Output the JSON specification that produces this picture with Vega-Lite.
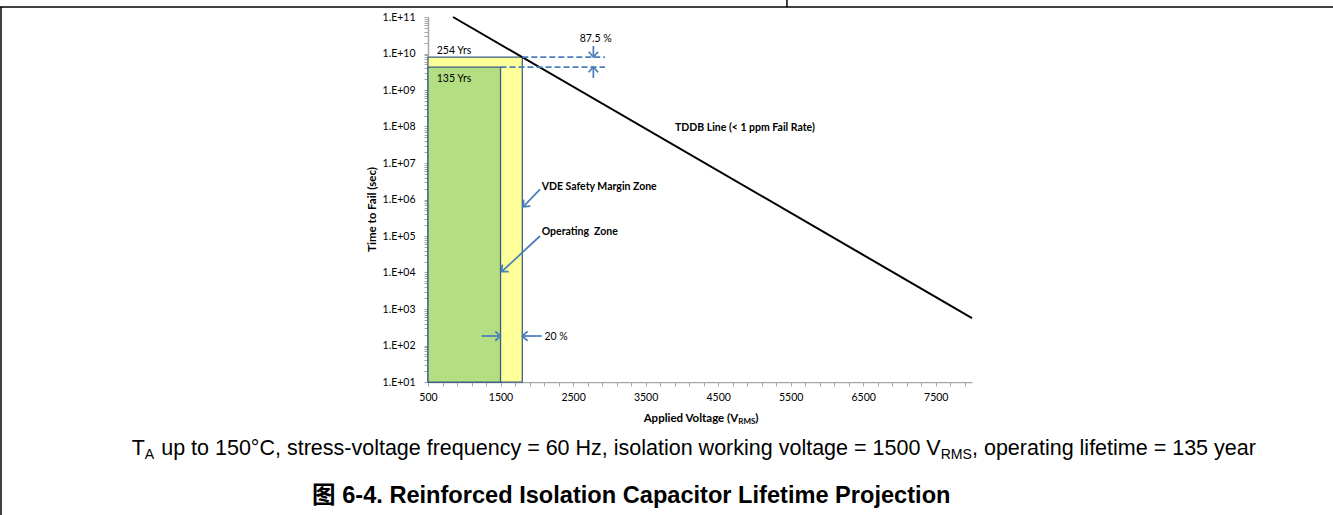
{
  "$schema": "https://vega.github.io/schema/vega-lite/v6.json",
  "width": 544,
  "height": 365,
  "autosize": {"type": "none"},
  "padding": {"left": 428, "top": 17, "right": 361, "bottom": 133},
  "background": "white",
  "config": {"view": {"stroke": null}, "font": "Lato", "axis": {"labelFont": "Lato", "titleFont": "Lato"}},
  "datasets": {
    "frame": [
      {"x0": -5401, "x1": 12977, "y0": 1.88e11, "y1": 1.88e11},
      {"x0": -5387, "x1": -5387, "y0": 1.88e11, "y1": 0.00227},
      {"x0": 5449, "x1": 5449, "y0": 2.93e11, "y1": 1.88e11}
    ],
    "tddb": [
      {"voltage": 845, "ttf": 1e11},
      {"voltage": 8000, "ttf": 566}
    ],
    "zones": [
      {"zone": "VDE Safety Margin Zone", "v0": 500, "v1": 1800, "t0": 10, "t1": 8.01e9},
      {"zone": "Operating Zone", "v0": 500, "v1": 1500, "t0": 10, "t1": 4.257e9}
    ],
    "levels": [
      {"v0": 1800, "v1": 2940, "t": 8.01e9},
      {"v0": 1500, "v1": 2940, "t": 4.257e9}
    ],
    "arrows": [
      {"dir": "down", "v0": 2780, "t0": 1.6e10, "v1": 2780, "t1": 8.01e9},
      {"dir": "up", "v0": 2780, "t0": 2.13e9, "v1": 2780, "t1": 4.257e9},
      {"dir": "right", "v0": 1240, "t0": 182, "v1": 1500, "t1": 182},
      {"dir": "left", "v0": 2067, "t0": 182, "v1": 1800, "t1": 182},
      {"dir": "toVDE", "v0": 2044, "t0": 1.9e6, "v1": 1814, "t1": 6.35e5},
      {"dir": "toOperating", "v0": 2044, "t0": 1.0e5, "v1": 1516, "t1": 1.05e4}
    ],
    "notes": [
      {"label": "VDE Safety Margin Zone", "voltage": 2067, "ttf": 2.24e6},
      {"label": "Operating\u00a0 Zone", "voltage": 2067, "ttf": 1.31e5},
      {"label": "TDDB Line (< 1 ppm Fail Rate)", "voltage": 3905, "ttf": 8.9e7}
    ],
    "values": [
      {"label": "254 Yrs", "voltage": 620, "ttf": 1.19e10, "anchor": "left"},
      {"label": "135 Yrs", "voltage": 620, "ttf": 2.0e9, "anchor": "left"},
      {"label": "87.5 %", "voltage": 2812, "ttf": 2.5e10, "anchor": "center"},
      {"label": "20 %", "voltage": 2106, "ttf": 171, "anchor": "left"}
    ],
    "xtitle": [
      {"label": "Applied Voltage (V", "voltage": 4778, "ttf": 0.80}
    ],
    "xtitleEnd": [
      {"label": ")", "voltage": 5010, "ttf": 0.80}
    ],
    "xtitleSub": [
      {"label": "RMS", "voltage": 4778, "ttf": 0.685}
    ],
    "captionLeft": [
      {"label": "T", "voltage": -3586, "ttf": 0.0969},
      {"label": ", operating lifetime = 135 year", "voltage": 8000, "ttf": 0.0969}
    ],
    "captionRight": [
      {"label": "up to 150°C, stress-voltage frequency = 60 Hz, isolation working voltage = 1500 V", "voltage": 7568, "ttf": 0.0969}
    ],
    "captionSub": [
      {"label": "A", "voltage": -3406, "ttf": 0.0753},
      {"label": "RMS", "voltage": 7568, "ttf": 0.0753}
    ],
    "figtitle": [
      {"label": "图 6-4. Reinforced Isolation Capacitor Lifetime Projection", "voltage": -1099, "ttf": 0.00484}
    ]
  },
  "layer": [
    {
      "data": {"name": "zones"},
      "mark": {"type": "rect", "stroke": "#385D8A", "strokeWidth": 1.25, "opacity": 1},
      "encoding": {
        "x": {
          "field": "v0", "type": "quantitative",
          "scale": {"domain": [500, 8000], "nice": false, "zero": false},
          "axis": {
            "values": [500,700,900,1100,1300,1500,1700,1900,2100,2300,2500,2700,2900,3100,3300,3500,3700,3900,4100,4300,4500,4700,4900,5100,5300,5500,5700,5900,6100,6300,6500,6700,6900,7100,7300,7500,7700,7900],
            "tickCount": 200,
            "labelExpr": "(datum.value - 500) % 1000 == 0 ? '' + datum.value : ''",
            "title": null,
            "grid": false,
            "tickSize": 4,
            "labelPadding": 6,
            "labelFontSize": 10.5,
            "labelColor": "#000000",
            "domainColor": "#A6A6A6",
            "tickColor": "#A6A6A6",
            "domainWidth": 1.25,
            "labelOverlap": false,
            "labelFlush": false
          }
        },
        "x2": {"field": "v1"},
        "y": {
          "field": "t0", "type": "quantitative",
          "scale": {"type": "log", "domain": [10, 1e11], "nice": false},
          "axis": {
            "values": [1e1,2e1,3e1,4e1,5e1,6e1,7e1,8e1,9e1,1e2,2e2,3e2,4e2,5e2,6e2,7e2,8e2,9e2,1e3,2e3,3e3,4e3,5e3,6e3,7e3,8e3,9e3,1e4,2e4,3e4,4e4,5e4,6e4,7e4,8e4,9e4,1e5,2e5,3e5,4e5,5e5,6e5,7e5,8e5,9e5,1e6,2e6,3e6,4e6,5e6,6e6,7e6,8e6,9e6,1e7,2e7,3e7,4e7,5e7,6e7,7e7,8e7,9e7,1e8,2e8,3e8,4e8,5e8,6e8,7e8,8e8,9e8,1e9,2e9,3e9,4e9,5e9,6e9,7e9,8e9,9e9,1e10,2e10,3e10,4e10,5e10,6e10,7e10,8e10,9e10,1e11],
            "tickCount": 200,
            "labelExpr": "abs(log(datum.value)/LN10 - round(log(datum.value)/LN10)) < 0.001 ? '1.E+' + (round(log(datum.value)/LN10) < 10 ? '0' : '') + round(log(datum.value)/LN10) : ''",
            "title": "Time to Fail (sec)",
            "titleFontWeight": "bold",
            "titleFontSize": 11.5,
            "titleColor": "#000000",
            "titleAngle": -90,
            "titleAlign": "center",
            "titleBaseline": "middle",
            "titleX": -56,
            "titleY": 192,
            "grid": false,
            "tickSize": 4,
            "labelPadding": 9,
            "labelFontSize": 10.5,
            "labelColor": "#000000",
            "domainColor": "#A6A6A6",
            "tickColor": "#A6A6A6",
            "domainWidth": 1.5,
            "labelOverlap": false,
            "labelFlush": false
          }
        },
        "y2": {"field": "t1"},
        "color": {
          "field": "zone", "type": "nominal",
          "scale": {"domain": ["VDE Safety Margin Zone", "Operating Zone"], "range": ["#FFFF99", "#B3DE81"]},
          "legend": null
        }
      }
    },
    {
      "data": {"name": "tddb"},
      "mark": {"type": "line", "color": "#000000", "strokeWidth": 2},
      "encoding": {
        "x": {"field": "voltage", "type": "quantitative"},
        "y": {"field": "ttf", "type": "quantitative"}
      }
    },
    {
      "data": {"name": "levels"},
      "mark": {"type": "rule", "color": "#4A7EBB", "strokeWidth": 1.75, "strokeDash": [6, 3]},
      "encoding": {
        "x": {"field": "v0", "type": "quantitative"},
        "x2": {"field": "v1"},
        "y": {"field": "t", "type": "quantitative"}
      }
    },
    {
      "data": {"name": "arrows"},
      "mark": {"type": "rule", "color": "#4A7EBB", "strokeWidth": 1.75},
      "encoding": {
        "x": {"field": "v0", "type": "quantitative"},
        "x2": {"field": "v1"},
        "y": {"field": "t0", "type": "quantitative"},
        "y2": {"field": "t1"}
      }
    },
    {
      "data": {"name": "arrows"},
      "mark": {"type": "point", "shape": "M-1,-0.9L0,0L-1,0.9", "filled": false, "size": 110, "stroke": "#4A7EBB", "strokeWidth": 1.75, "opacity": 1},
      "encoding": {
        "x": {"field": "v1", "type": "quantitative"},
        "y": {"field": "t1", "type": "quantitative"},
        "angle": {
          "field": "dir", "type": "nominal",
          "scale": {"type": "ordinal", "domain": ["right", "down", "left", "up", "toVDE", "toOperating"], "range": [0, 90, 180, 270, 134, 137]},
          "legend": null
        }
      }
    },
    {
      "data": {"name": "notes"},
      "mark": {"type": "text", "align": "left", "baseline": "middle", "fontSize": 10.5, "fontWeight": "bold", "font": "Lato", "color": "#000000"},
      "encoding": {
        "x": {"field": "voltage", "type": "quantitative"},
        "y": {"field": "ttf", "type": "quantitative"},
        "text": {"field": "label"}
      }
    },
    {
      "data": {"name": "values"},
      "transform": [{"filter": "datum.anchor == 'left'"}],
      "mark": {"type": "text", "align": "left", "baseline": "middle", "fontSize": 10.5, "font": "Lato", "color": "#000000"},
      "encoding": {
        "x": {"field": "voltage", "type": "quantitative"},
        "y": {"field": "ttf", "type": "quantitative"},
        "text": {"field": "label"}
      }
    },
    {
      "data": {"name": "values"},
      "transform": [{"filter": "datum.anchor == 'center'"}],
      "mark": {"type": "text", "align": "center", "baseline": "middle", "fontSize": 10.5, "font": "Lato", "color": "#000000"},
      "encoding": {
        "x": {"field": "voltage", "type": "quantitative"},
        "y": {"field": "ttf", "type": "quantitative"},
        "text": {"field": "label"}
      }
    },
    {
      "data": {"name": "xtitle"},
      "mark": {"type": "text", "align": "right", "baseline": "alphabetic", "fontSize": 11.5, "fontWeight": "bold", "font": "Lato", "color": "#000000"},
      "encoding": {
        "x": {"field": "voltage", "type": "quantitative"},
        "y": {"field": "ttf", "type": "quantitative"},
        "text": {"field": "label"}
      }
    },
    {
      "data": {"name": "xtitleEnd"},
      "mark": {"type": "text", "align": "left", "baseline": "alphabetic", "fontSize": 11.5, "fontWeight": "bold", "font": "Lato", "color": "#000000"},
      "encoding": {
        "x": {"field": "voltage", "type": "quantitative"},
        "y": {"field": "ttf", "type": "quantitative"},
        "text": {"field": "label"}
      }
    },
    {
      "data": {"name": "xtitleSub"},
      "mark": {"type": "text", "align": "left", "baseline": "alphabetic", "fontSize": 8, "fontWeight": "bold", "font": "Lato", "color": "#000000"},
      "encoding": {
        "x": {"field": "voltage", "type": "quantitative"},
        "y": {"field": "ttf", "type": "quantitative"},
        "text": {"field": "label"}
      }
    },
    {
      "data": {"name": "captionLeft"},
      "mark": {"type": "text", "align": "left", "baseline": "alphabetic", "fontSize": 21.5, "font": "Liberation Sans", "color": "#000000"},
      "encoding": {
        "x": {"field": "voltage", "type": "quantitative"},
        "y": {"field": "ttf", "type": "quantitative"},
        "text": {"field": "label"}
      }
    },
    {
      "data": {"name": "captionRight"},
      "mark": {"type": "text", "align": "right", "baseline": "alphabetic", "fontSize": 21.5, "font": "Liberation Sans", "color": "#000000"},
      "encoding": {
        "x": {"field": "voltage", "type": "quantitative"},
        "y": {"field": "ttf", "type": "quantitative"},
        "text": {"field": "label"}
      }
    },
    {
      "data": {"name": "captionSub"},
      "mark": {"type": "text", "align": "left", "baseline": "alphabetic", "fontSize": 14.1, "font": "Liberation Sans", "color": "#000000"},
      "encoding": {
        "x": {"field": "voltage", "type": "quantitative"},
        "y": {"field": "ttf", "type": "quantitative"},
        "text": {"field": "label"}
      }
    },
    {
      "data": {"name": "figtitle"},
      "mark": {"type": "text", "align": "left", "baseline": "alphabetic", "fontSize": 23.6, "fontWeight": "bold", "font": "Liberation Sans, Noto Sans CJK SC", "color": "#000000"},
      "encoding": {
        "x": {"field": "voltage", "type": "quantitative"},
        "y": {"field": "ttf", "type": "quantitative"},
        "text": {"field": "label"}
      }
    },
    {
      "data": {"name": "frame"},
      "mark": {"type": "rule", "color": "#000000", "strokeWidth": 1.5},
      "encoding": {
        "x": {"field": "x0", "type": "quantitative"},
        "x2": {"field": "x1"},
        "y": {"field": "y0", "type": "quantitative"},
        "y2": {"field": "y1"}
      }
    }
  ]
}
